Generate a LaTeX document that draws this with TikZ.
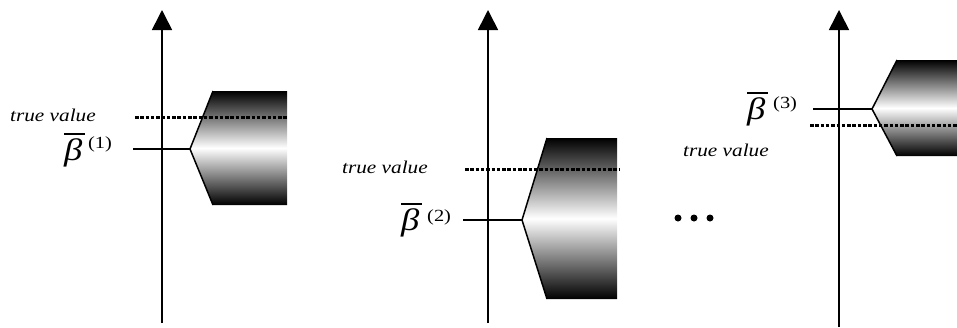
\documentclass[tikz,border=0pt]{standalone}
\usepackage{graphicx}
\usepackage{fontspec}
\setmainfont{Liberation Serif}
\usetikzlibrary{arrows.meta}
\newcommand\tvstretch[1]{\scalebox{1.18}[1]{#1}}
\newcommand\supstretch[1]{\scalebox{1.2}[1]{#1}}
\newcommand\betastretch[1]{\scalebox{1.18}[1]{#1}}
\tikzset{
  axisline/.style={line width=1.6pt, -{Triangle[width=20pt,length=20pt]}},
  tickline/.style={line width=1.6pt},
  truthline/.style={line width=3pt, dash pattern=on 3.5pt off 1.8pt},
  edgeline/.style={line width=1.5pt, line join=miter},
  blob/.style={top color=black, bottom color=black, middle color=white},
  tvlabel/.style={anchor=base west, inner sep=0pt, font=\fontsize{18}{18}\selectfont\itshape},
  betalabel/.style={anchor=base west, inner sep=0pt, font=\fontsize{31}{31}\selectfont\itshape},
  suplabel/.style={anchor=base west, inner sep=0pt, font=\fontsize{17}{17}\selectfont},
  barline/.style={line width=1.4pt},
  dot/.style={circle, fill=black, inner sep=0pt, minimum size=7pt}
}
\begin{document}
\begin{tikzpicture}[x=1pt, y=-1pt]
\useasboundingbox (0,0) rectangle (957,327);
\begin{scope}
\clip (0,0) rectangle (957,327);
% ---------- panel 1 ----------
\coordinate (a1b) at (162,323);
\coordinate (a1t) at (162,10);
\coordinate (p1) at (190,149);
\coordinate (t1) at (133,149);
\coordinate (d1l) at (135,117);
\coordinate (d1r) at (287,117);
\shade[blob] (213,91) -- (287,91) -- (287,205) -- (213,205) -- (p1) -- cycle;
\draw[edgeline] (213,91) -- (p1) -- (213,205);
\draw[truthline] (d1l) -- (d1r);
\draw[tickline] (t1) -- (p1);
\draw[axisline] (a1b) -- (a1t);
\node[tvlabel] (tv1) at (10,121) {\tvstretch{true value}};
\node[betalabel] (b1) at (64,160) {\betastretch{β}};
\draw[barline] ([yshift=4pt]b1.north west) -- ([yshift=4pt,xshift=2pt]b1.north east);
\node[suplabel] (s1) at (88,148) {\supstretch{(1)}};
% ---------- panel 2 ----------
\coordinate (a2b) at (488,323);
\coordinate (a2t) at (488,10);
\coordinate (p2) at (522,220);
\coordinate (t2) at (463,220);
\coordinate (d2l) at (465,169);
\coordinate (d2r) at (620,169);
\shade[blob] (547,138) -- (617,138) -- (617,299) -- (547,299) -- (p2) -- cycle;
\draw[edgeline] (547,138) -- (p2) -- (547,299);
\draw[truthline] (d2l) -- (d2r);
\draw[tickline] (t2) -- (p2);
\draw[axisline] (a2b) -- (a2t);
\node[tvlabel] (tv2) at (342,173) {\tvstretch{true value}};
\node[betalabel] (b2) at (401,230) {\betastretch{β}};
\draw[barline] ([yshift=4pt]b2.north west) -- ([yshift=4pt,xshift=2pt]b2.north east);
\node[suplabel] (s2) at (427,221) {\supstretch{(2)}};
% ---------- dots ----------
\node[dot] (e1) at (678,218) {};
\node[dot] (e2) at (694,218) {};
\node[dot] (e3) at (710,218) {};
% ---------- panel 3 ----------
\coordinate (a3b) at (839,327);
\coordinate (a3t) at (839,10);
\coordinate (p3) at (872,109);
\coordinate (t3) at (813,109);
\coordinate (d3l) at (810,125);
\coordinate (d3r) at (957,125);
\shade[blob] (897,60) -- (960,60) -- (960,156) -- (897,156) -- (p3) -- cycle;
\draw[edgeline] (897,60) -- (p3) -- (897,156);
\draw[truthline] (d3l) -- (d3r);
\draw[tickline] (t3) -- (p3);
\draw[axisline] (a3b) -- (a3t);
\node[tvlabel] (tv3) at (683,156) {\tvstretch{true value}};
\node[betalabel] (b3) at (747,119) {\betastretch{β}};
\draw[barline] ([yshift=4pt]b3.north west) -- ([yshift=4pt,xshift=2pt]b3.north east);
\node[suplabel] (s3) at (773,108) {\supstretch{(3)}};
\end{scope}
\end{tikzpicture}
\end{document}
